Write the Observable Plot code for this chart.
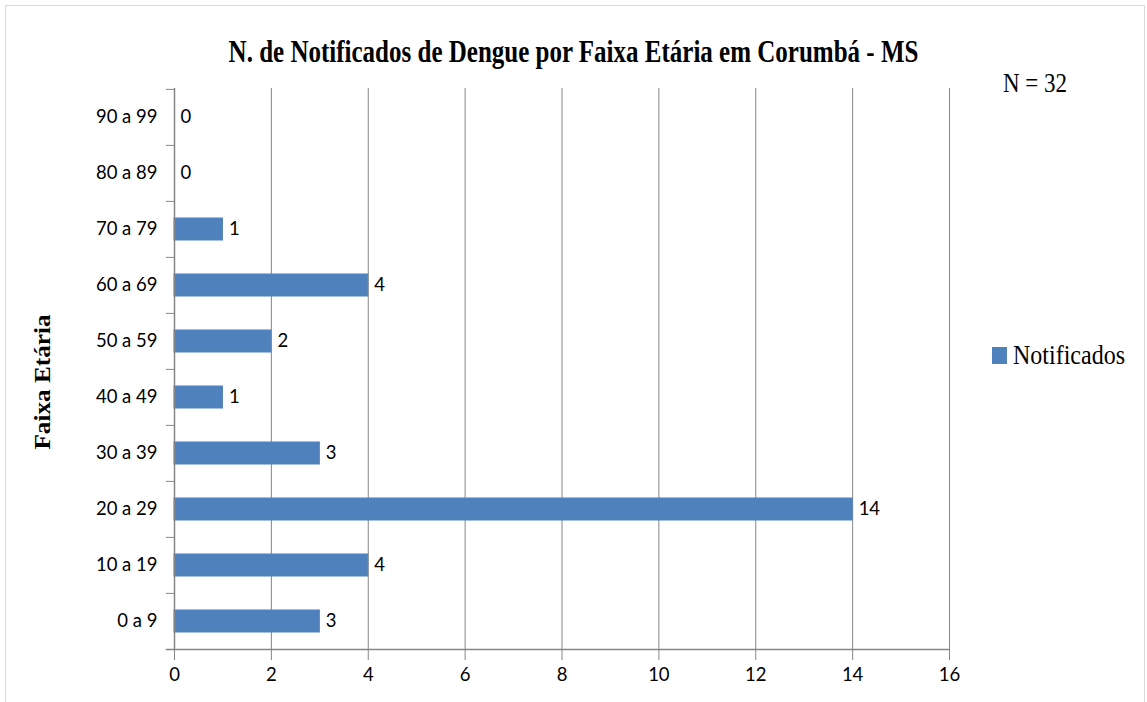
<!DOCTYPE html>
<html>
<head>
<meta charset="utf-8">
<script src="https://cdn.jsdelivr.net/npm/d3@7"></script>
<script src="https://cdn.jsdelivr.net/npm/@observablehq/plot@0.6"></script>
<style>
  html, body { margin: 0; padding: 0; background: #fff; }
  #wrap { position: relative; width: 1147px; height: 702px; overflow: hidden; }
  #border { position: absolute; left: 5px; top: 5px; width: 1140px; height: 700px; border: 1px solid #d9d9d9; box-sizing: border-box; }
  #chart { position: absolute; left: 0; top: 0; }
  .serif { position: absolute; font-family: "Liberation Serif", "Times New Roman", serif; color: #000; white-space: nowrap; line-height: 1; }
  #title { left: 0; width: 1147px; top: 39px; text-align: center; font-weight: bold; font-size: 25px; transform: scaleY(1.28); }
  #n { left: 1003px; top: 72px; font-size: 23px; transform: scaleY(1.16); transform-origin: 50% 50%; }
  #ylab { left: 42px; top: 382px; font-weight: bold; font-size: 24px; transform: translate(-50%, -50%) rotate(-90deg) scaleX(1.05); }
  #legend { left: 992px; top: 343px; font-size: 24px; display: flex; align-items: center; }
  #legend .sw { width: 15px; height: 17px; background: #4f81bd; margin-right: 6px; }
  #legend #legtext { display: inline-block; transform: scaleY(1.15); }
</style>
</head>
<body>
<div id="wrap">
  <div id="border"></div>
  <div id="chart"></div>
  <div id="title" class="serif"></div>
  <div id="n" class="serif"></div>
  <div id="ylab" class="serif"></div>
  <div id="legend" class="serif"><span class="sw"></span><span id="legtext"></span></div>
</div>
<script>
const categories = ["0 a 9", "10 a 19", "20 a 29", "30 a 39", "40 a 49", "50 a 59", "60 a 69", "70 a 79", "80 a 89", "90 a 99"];
const notificados = [3, 4, 14, 3, 1, 2, 4, 1, 0, 0];
const xTicks = [0, 2, 4, 6, 8, 10, 12, 14, 16];
const titleText = "N. de Notificados de Dengue por Faixa Etária em Corumbá - MS";
const nText = "N = 32";
const yLabel = "Faixa Etária";
const seriesName = "Notificados";

document.getElementById("title").textContent = titleText;
document.getElementById("n").textContent = nText;
document.getElementById("ylab").textContent = yLabel;
document.getElementById("legtext").textContent = seriesName;

const data = categories.map((c, i) => ({faixa: c, valor: notificados[i]}));
const order = categories.slice().reverse();

const W = 1147, H = 702, mT = 88, mB = 52, mL = 174, mR = 198;
const step = (H - mT - mB) / categories.length;
const grey = "#868686";
const font = "Lato, 'Open Sans', sans-serif";

const plot = Plot.plot({
  width: W,
  height: H,
  marginTop: mT,
  marginBottom: mB,
  marginLeft: mL,
  marginRight: mR,
  style: {fontFamily: font, fontSize: "18px", color: "#000", background: "transparent"},
  x: {domain: [0, 16], ticks: xTicks, label: null},
  y: {domain: order, paddingInner: 0.61, paddingOuter: 0.305, label: null},
  marks: [
    Plot.gridX(xTicks, {stroke: grey, strokeOpacity: 1, strokeWidth: 1}),
    Plot.axisX({ticks: xTicks, tickSize: 10, tickPadding: 7, stroke: grey, strokeOpacity: 1, fontSize: 18.5, label: null, fill: "#000"}),
    Plot.axisY({tickSize: 0, tickPadding: 17, fontSize: 18.5, label: null, fill: "#000"}),
    Plot.barX(data, {x: "valor", y: "faixa", fill: "#4f81bd", stroke: "#4f81bd", strokeWidth: 1}),
    Plot.ruleY(order, {y: d => d, x1: -0.17, x2: 0, dy: -step / 2, stroke: grey, strokeWidth: 1}),
    Plot.ruleY([order[order.length - 1]], {y: d => d, x1: -0.17, x2: 16, dy: step / 2, stroke: grey, strokeWidth: 1.5}),
    Plot.ruleX([0], {stroke: grey, strokeWidth: 1.5}),
    Plot.text(data, {x: "valor", y: "faixa", text: d => String(d.valor), dx: 6, textAnchor: "start", fontSize: 18.5, fill: "#000"})
  ]
});
document.getElementById("chart").appendChild(plot);
</script>
</body>
</html>
